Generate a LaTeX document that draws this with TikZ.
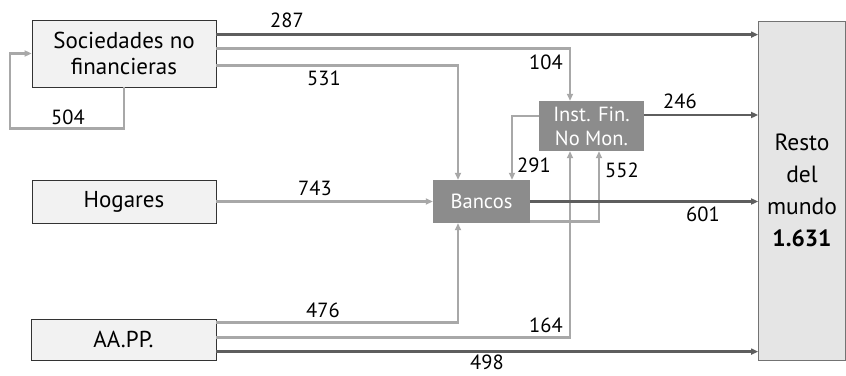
\documentclass[tikz,border=0pt]{standalone}
\usepackage{fontspec}
\setmainfont{PT Sans}
\usetikzlibrary{calc,arrows.meta}
\definecolor{dk}{HTML}{5E5E5E}
\definecolor{lt}{HTML}{A8A8A8}
\definecolor{mid}{HTML}{8C8C8C}
\begin{document}
\begin{tikzpicture}[x=1pt,y=-1pt,
  sector/.style={draw=black!80,line width=0.8pt,fill=black!5,inner sep=0pt,align=center,font=\fontsize{23}{26}\selectfont},
  inter/.style={fill=mid,text=white,inner sep=0pt,align=center,font=\fontsize{20.5}{24}\selectfont},
  num/.style={inner sep=0pt,font=\fontsize{20.5}{22}\selectfont},
  dkl/.style={draw=dk,line width=2.4pt,-{Triangle[length=7pt,width=6pt]}},
  ltl/.style={draw=lt,line width=2.4pt,-{Triangle[length=7pt,width=6pt]}}]
\useasboundingbox (0,0) rectangle (846,375);
\node[sector,minimum width=184pt,minimum height=67pt] (soc) at (124,53.5) {Sociedades no\\financieras};
\node[sector,minimum width=184pt,minimum height=43pt] (hog) at (124,201.5) {Hogares};
\node[sector,minimum width=185pt,minimum height=41pt] (aap) at (123.5,339.5) {AA.PP.};
\node[draw=black!55,line width=0.8pt,fill=black!10,inner sep=0pt,minimum width=87pt,minimum height=339pt,align=center,font=\fontsize{23.5}{32}\selectfont] (res) at (802,190.5) {Resto\\del\\mundo\\\textbf{1.631}};
\node[inter,minimum width=105pt,minimum height=50pt] (inst) at (591.5,126) {Inst. Fin.\\No Mon.};
\node[inter,minimum width=97pt,minimum height=43pt] (ban) at (481.5,201.5) {Bancos};
% connectors
\coordinate (a287) at ($(soc.north east)+(0,15)$);
\draw[dkl] (a287) -- (a287 -| res.west);
\draw[ltl] ($(soc.north east)+(0,29)$) -| ($(inst.north)+(-21.5,0)$);
\draw[ltl] ($(soc.north east)+(0,46)$) -| ($(ban.north)+(-23.5,0)$);
\coordinate (loopa) at ($(soc.south)+(0,41)$);
\coordinate (loopb) at ($(loopa)+(-114,0)$);
\draw[ltl] (soc.south) -- (loopa) -- (loopb) |- (soc.west);
\draw[ltl] (hog.east) -- (ban.west);
\draw[ltl] ($(aap.north east)+(0,4)$) -| ($(ban.south)+(-23.5,0)$);
\draw[ltl] ($(aap.north east)+(0,19)$) -| ($(inst.south)+(-21.5,0)$);
\coordinate (a498) at ($(aap.north east)+(0,33)$);
\draw[dkl] (a498) -- (a498 -| res.west);
\draw[ltl] ($(inst.west)+(0,-10)$) -| ($(ban.north)+(30.5,0)$);
\draw[ltl] ($(ban.east)+(0,20)$) -| ($(inst.south)+(7.5,0)$);
\coordinate (a246) at ($(inst.east)+(0,-11)$);
\draw[dkl] (a246) -- (a246 -| res.west);
\draw[dkl] (ban.east) -- (ban.east -| res.west);
% labels
\node[num] (l287) at (287,20) {287};
\node[num] (l104) at (546,62) {104};
\node[num] (l531) at (324,78) {531};
\node[num] (l504) at (68,117) {504};
\node[num] (l743) at (315,188) {743};
\node[num] (l246) at (680,101) {246};
\node[num] (l291) at (534,165) {291};
\node[num] (l552) at (622,170) {552};
\node[num] (l601) at (703,214) {601};
\node[num] (l476) at (323,310) {476};
\node[num] (l164) at (546,325) {164};
\node[num] (l498) at (487,362) {498};
\end{tikzpicture}
\end{document}
